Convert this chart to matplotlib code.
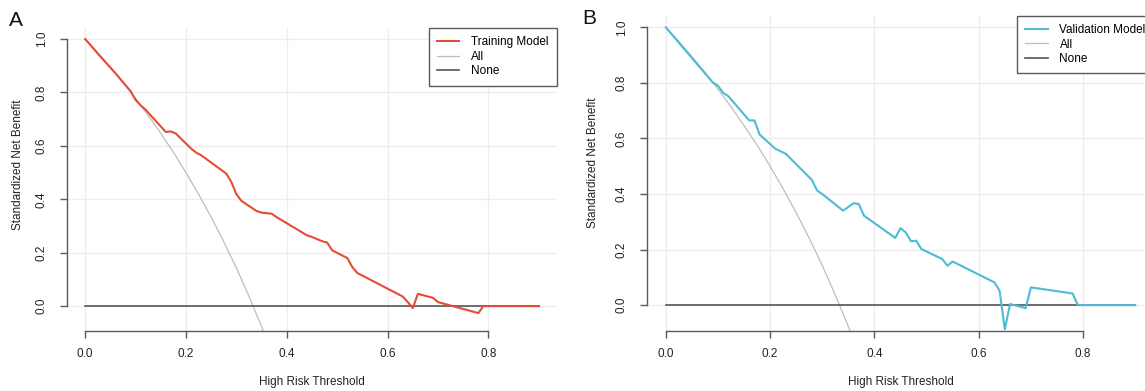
import matplotlib
matplotlib.use("Agg")
import matplotlib.pyplot as plt

plt.rcParams['font.family'] = ['Liberation Sans', 'DejaVu Sans']

# ---- data ----
thr_train = [0.00, 0.03, 0.06, 0.09, 0.10, 0.11, 0.12, 0.16, 0.17, 0.18, 0.21, 0.22, 0.23,
             0.28, 0.29, 0.30, 0.31, 0.34, 0.35, 0.37, 0.38, 0.44, 0.45, 0.47, 0.48, 0.49,
             0.52, 0.53, 0.54, 0.63, 0.64, 0.65, 0.66, 0.69, 0.70, 0.78, 0.79, 0.90]
nb_train = [1.000, 0.935, 0.872, 0.805, 0.772, 0.752, 0.735, 0.652, 0.654, 0.646, 0.590, 0.575, 0.565,
            0.496, 0.465, 0.419, 0.394, 0.356, 0.350, 0.346, 0.333, 0.265, 0.259, 0.243, 0.238, 0.209,
            0.180, 0.146, 0.124, 0.036, 0.015, -0.007, 0.046, 0.031, 0.015, -0.026, 0.000, 0.000]

thr_valid = [0.00, 0.09, 0.10, 0.11, 0.12, 0.16, 0.17, 0.18, 0.21, 0.23, 0.28, 0.29, 0.30,
             0.34, 0.36, 0.37, 0.38, 0.44, 0.45, 0.46, 0.47, 0.48, 0.49, 0.53, 0.54, 0.55,
             0.63, 0.64, 0.65, 0.66, 0.69, 0.70, 0.78, 0.79, 0.90]
nb_valid = [1.000, 0.802, 0.790, 0.764, 0.752, 0.665, 0.665, 0.614, 0.563, 0.545, 0.451, 0.413, 0.400,
            0.340, 0.367, 0.364, 0.322, 0.242, 0.277, 0.262, 0.230, 0.232, 0.202, 0.166, 0.142, 0.157,
            0.082, 0.052, -0.087, 0.004, -0.011, 0.064, 0.042, 0.000, 0.000]

thr_all = [0.0, 0.025, 0.05, 0.075, 0.1, 0.125, 0.15, 0.175, 0.2, 0.225, 0.25, 0.275, 0.3, 0.325, 0.35, 0.36]
nb_all = [1.0, 0.949, 0.895, 0.838, 0.778, 0.714, 0.647, 0.576, 0.5, 0.419, 0.333, 0.241, 0.143, 0.037, -0.077, -0.125]

thr_none = [0.0, 0.9]
nb_none = [0.0, 0.0]

x_ticks = [0.0, 0.2, 0.4, 0.6, 0.8]
y_ticks = [0.0, 0.2, 0.4, 0.6, 0.8, 1.0]

panels = [
    dict(label="A", thr=thr_train, nb=nb_train, name="Training Model", color="#E64B35"),
    dict(label="B", thr=thr_valid, nb=nb_valid, name="Validation Model", color="#4DBBD5"),
]

W, H = 1145, 391
fig = plt.figure(figsize=(W / 100, H / 100), dpi=100)

# axes boxes in pixels: left, right, top, bottom
boxes = [(67, 557, 27.8, 330.7), (647, 1154, 15.7, 330.7)]
ylab_y = [165, 163]
ylab_x = [18, 593]
letter_pos = [(16, 20), (589, 18)]

FS = 8.5
axis_col = "#5a5a5a"

for p, (l, r, t, b), yly, ylx, (lx, ly) in zip(panels, boxes, ylab_y, ylab_x, letter_pos):
    ax = fig.add_axes([l / W, (H - b) / H, (r - l) / W, (b - t) / H])
    ax.set_xlim(-0.036, 0.936)
    ax.set_ylim(-0.092, 1.042)
    ax.set_xticks(x_ticks)
    ax.set_yticks(y_ticks)
    ax.set_xticklabels([f"{v:.1f}" for v in x_ticks])
    ax.set_yticklabels([f"{v:.1f}" for v in y_ticks], rotation=90, va="center")
    ax.grid(True, color="#EDEDED", lw=0.9, zorder=0)
    ax.set_axisbelow(True)
    for s in ("top", "right"):
        ax.spines[s].set_visible(False)
    ax.spines["left"].set_bounds(0, 1)
    ax.spines["bottom"].set_bounds(0, 0.8)
    for s in ("left", "bottom"):
        ax.spines[s].set_color(axis_col)
        ax.spines[s].set_linewidth(1.0)
    ax.tick_params(axis="both", direction="out", length=5, width=1.0, color=axis_col,
                   labelsize=FS, labelcolor="#222222")
    ax.tick_params(axis="x", pad=7.5)
    ax.tick_params(axis="y", pad=9)

    l_all, = ax.plot(thr_all, nb_all, color="#BEBEBE", lw=0.9, zorder=2, label="All")
    l_none, = ax.plot(thr_none, nb_none, color="#555555", lw=1.2, zorder=3, label="None")
    l_mod, = ax.plot(p["thr"], p["nb"], color=p["color"], lw=1.5, zorder=4, label=p["name"])

    leg = ax.legend(handles=[l_mod, l_all, l_none], loc="upper right", bbox_to_anchor=(1, 1),
                    borderaxespad=0, fancybox=False, framealpha=1, edgecolor=axis_col,
                    fontsize=FS, handlelength=1.9, handletextpad=1.0, borderpad=0.7,
                    labelspacing=0.22)
    leg.get_frame().set_linewidth(1.0)

    ax.set_xlabel("High Risk Threshold", fontsize=FS, color="#222222", va="center")
    ax.xaxis.set_label_coords(0.5, -(381.5 - b) / (b - t))
    ax.set_ylabel("Standardized Net Benefit", fontsize=FS, color="#222222", va="center")
    ax.yaxis.set_label_coords((ylx - l) / (r - l), (b - yly) / (b - t))

    fig.text(lx / W, 1 - ly / H, p["label"], fontsize=15, ha="center", va="center", color="#111111")

fig.savefig("out.png", dpi=100)
